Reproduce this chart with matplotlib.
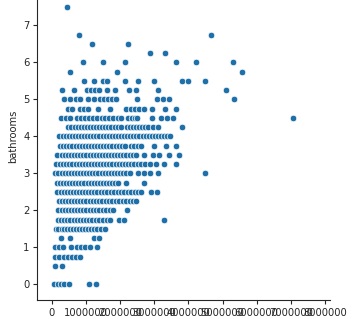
import matplotlib
matplotlib.use('Agg')
import matplotlib.pyplot as plt
import seaborn as sns
import pandas as pd

# prices in thousands of dollars, one list per bathrooms level
p_b000 = [80, 190, 280, 370, 500, 1080, 1290]
p_b050 = [90, 310]
p_b075 = [110, 230, 360, 480, 590, 720, 830]
p_b100 = [90, 210, 340, 580, 740, 850, 990, 1120, 1320]
p_b125 = [270, 530, 1240, 1390]
p_b150 = [120, 200, 290, 370, 460, 540, 630, 720, 800, 890, 980, 1070, 1150,
          1240, 1340, 1450, 1550]
p_b175 = [180, 270, 360, 450, 540, 640, 730, 820, 910, 1000, 1100, 1190, 1290,
          1400, 1510, 1610, 1720, 1970, 2110, 3300]
p_b200 = [200, 290, 380, 470, 560, 660, 750, 840, 930, 1020, 1120, 1210, 1300,
          1400, 1500, 1600, 1700, 1810, 2210]
p_b225 = [210, 300, 390, 480, 570, 660, 750, 840, 930, 1020, 1110, 1200, 1290,
          1380, 1480, 1580, 1680, 1780, 1880, 1980, 2080, 2180, 2280, 2370, 2460]
p_b250 = [170, 260, 350, 440, 530, 620, 710, 800, 890, 980, 1070, 1160, 1250,
          1340, 1430, 1530, 1630, 1730, 1830, 1930, 2030, 2130, 2230, 2330,
          2430, 2520, 2610, 2910, 3090]
p_b275 = [150, 240, 330, 420, 510, 600, 690, 780, 870, 960, 1050, 1140, 1230,
          1320, 1410, 1500, 1590, 1680, 1770, 1860, 1950, 2180, 2710]
p_b300 = [110, 200, 290, 380, 470, 560, 650, 740, 830, 920, 1010, 1100, 1190,
          1280, 1370, 1460, 1550, 1640, 1730, 1820, 1910, 2000, 2100, 2190,
          2280, 2530, 2710, 2880, 3120, 4500]
p_b325 = [130, 250, 340, 430, 520, 610, 700, 790, 880, 970, 1060, 1150, 1240,
          1330, 1420, 1510, 1600, 1690, 1780, 1870, 1960, 2050, 2140, 2230,
          2320, 2420, 2520, 2620, 2720, 2880, 3060, 3290, 3650]
p_b350 = [170, 300, 390, 480, 570, 660, 750, 840, 930, 1020, 1110, 1200, 1290,
          1380, 1470, 1560, 1650, 1740, 1830, 1920, 2010, 2100, 2190, 2280,
          2370, 2460, 2690, 2970, 3150, 3440, 3730]
p_b375 = [250, 340, 430, 520, 610, 700, 790, 880, 970, 1060, 1150, 1240, 1330,
          1420, 1510, 1600, 1690, 1780, 1870, 1960, 2050, 2140, 2330, 2420,
          2530, 2610, 3000, 3350, 3650]
p_b400 = [230, 320, 410, 500, 590, 680, 770, 860, 950, 1040, 1130, 1220, 1310,
          1400, 1490, 1580, 1670, 1760, 1850, 1940, 2030, 2120, 2210, 2300,
          2390, 2480, 2570, 2660, 2750, 2840, 2930, 3020, 3110, 3200, 3290,
          3380, 3470]
p_b425 = [480, 580, 670, 760, 850, 940, 1030, 1120, 1210, 1300, 1390, 1480,
          1570, 1660, 1750, 1840, 1930, 2020, 2200, 2290, 2380, 2470, 2560,
          2650, 2730, 2810, 2970, 3120, 3820]
p_b450 = [280, 410, 540, 750, 870, 990, 1100, 1220, 1340, 1460, 1570, 1690,
          1810, 1930, 2040, 2220, 2340, 2450, 2510, 2940, 3200, 3380, 3550, 7060]
p_b475 = [480, 600, 830, 950, 1060, 1360, 1710, 2180, 2320, 2440, 2570, 2710,
          2940, 3320, 3650]
p_b500 = [360, 540, 710, 830, 1060, 1240, 1420, 1530, 1650, 1770, 1890, 2500,
          3070, 3250, 3440, 5350]
p_b525 = [300, 650, 1030, 1140, 1260, 1390, 1620, 1860, 2270, 2470, 3120, 5110]
p_b550 = [950, 1240, 1500, 1620, 2150, 2530, 3000, 3820, 4000, 4500]
p_b575 = [540, 1910, 5580]
p_b600 = [920, 1500, 2150, 3650, 4230, 5320]
p_b625 = [2880, 3320]
p_b650 = [1170, 2230]
p_b675 = [800, 4670]
p_b750 = [460]

bath_levels = [0, 0.5, 0.75, 1, 1.25, 1.5, 1.75, 2, 2.25, 2.5, 2.75, 3, 3.25,
               3.5, 3.75, 4, 4.25, 4.5, 4.75, 5, 5.25, 5.5, 5.75, 6, 6.25,
               6.5, 6.75, 7.5]
price_rows = [p_b000, p_b050, p_b075, p_b100, p_b125, p_b150, p_b175, p_b200,
              p_b225, p_b250, p_b275, p_b300, p_b325, p_b350, p_b375, p_b400,
              p_b425, p_b450, p_b475, p_b500, p_b525, p_b550, p_b575, p_b600,
              p_b625, p_b650, p_b675, p_b750]

prices, baths = [], []
for b, row in zip(bath_levels, price_rows):
    for p in row:
        prices.append(p * 1000)
        baths.append(b)
df = pd.DataFrame({'price': prices, 'bathrooms': baths})

sns.set_style('ticks')
plt.rcParams['font.family'] = ['DejaVu Sans']

fig = plt.figure(figsize=(3.62, 3.19), dpi=100)
ax = fig.add_axes([0.103, 0.0596, 0.809, 1.0235])

sns.scatterplot(x='price', y='bathrooms', data=df, ax=ax, s=22,
                color='#1f6fa8', edgecolor='white', linewidth=0.5)
sns.despine(ax=ax)

ax.set_xlim(-420000, 8150000)
ax.set_ylim(-0.42, 8.4)
ax.set_xticks(range(0, 8000001, 1000000))
ax.set_xticklabels([str(v) for v in range(0, 8000001, 1000000)])
ax.set_yticks(range(0, 8))
ax.tick_params(labelsize=7.2, length=3, width=0.8, pad=2.5)
ax.set_ylabel('bathrooms', fontsize=7.2)
ax.set_xlabel('')

fig.savefig('out.png', dpi=100)
